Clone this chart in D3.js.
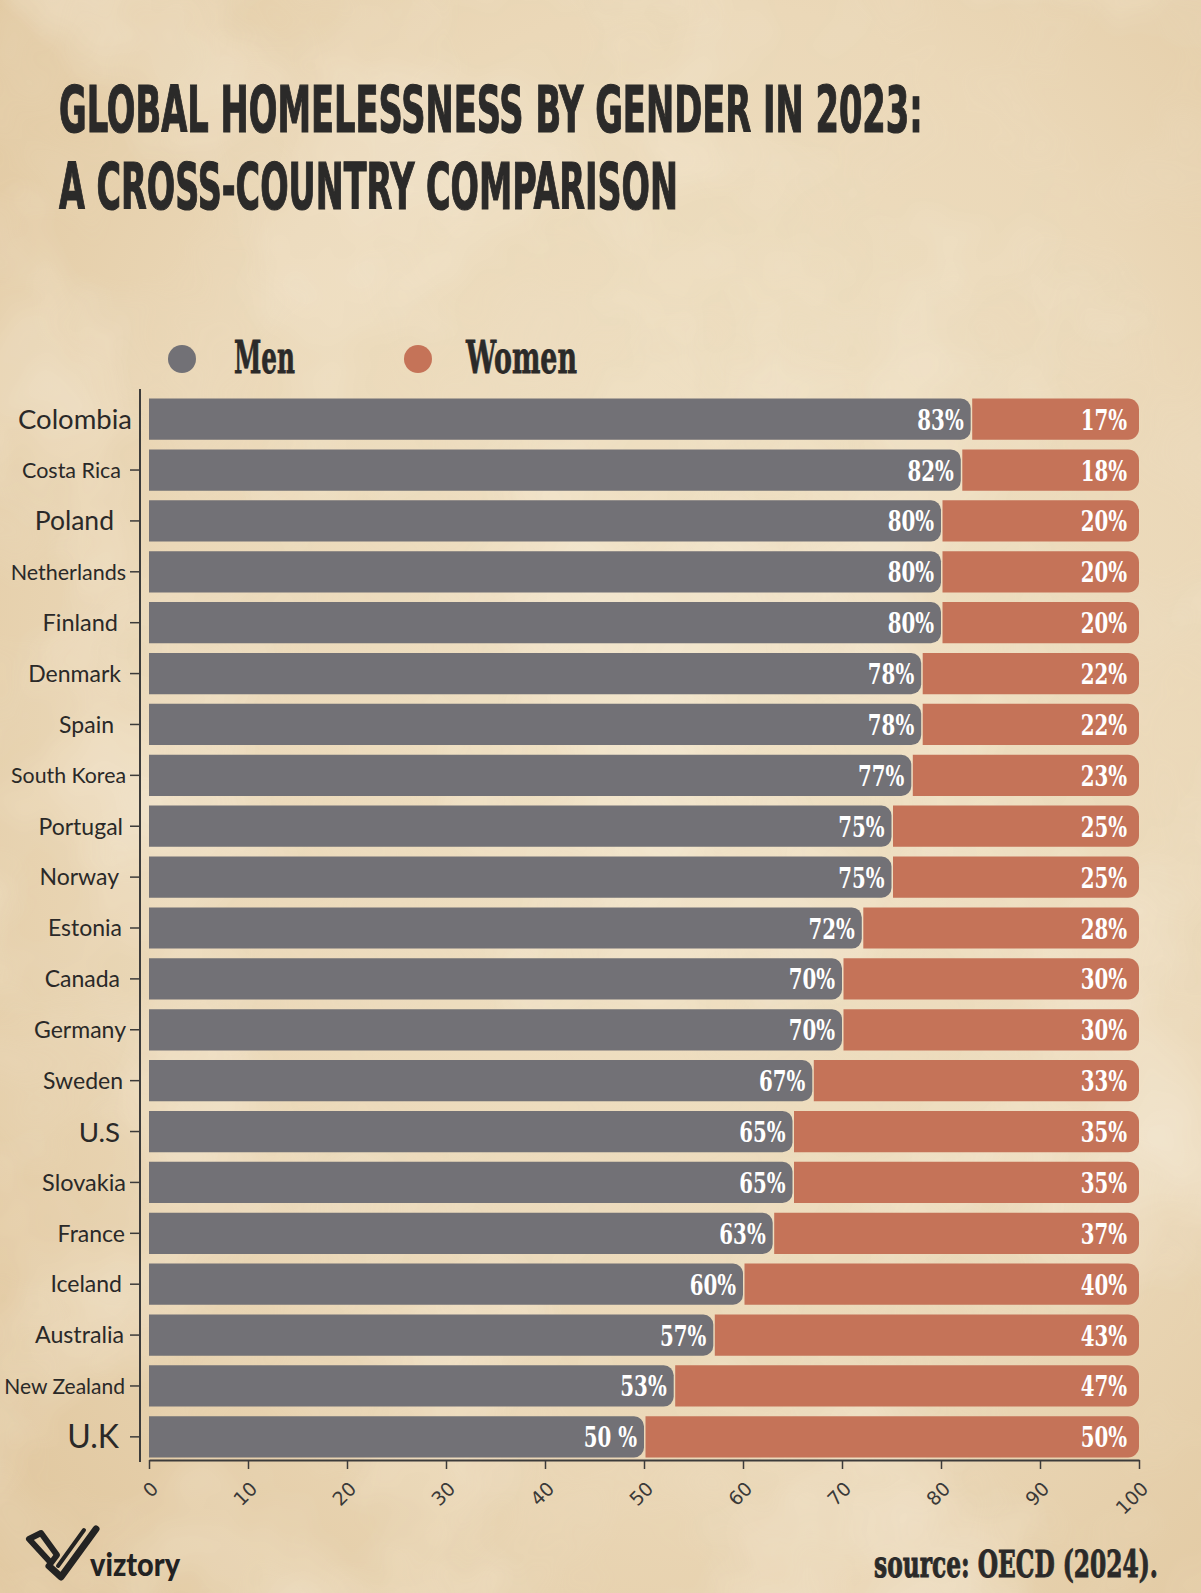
<!DOCTYPE html>
<html>
<head>
<meta charset="utf-8">
<script src="https://cdn.jsdelivr.net/npm/d3@7"></script>
<style>
  html, body { margin: 0; padding: 0; background: #ead8b8; }
  svg { display: block; }
</style>
</head>
<body>
<svg id="chart" width="1201" height="1593"></svg>
<script>
// ---------------- data ----------------
const countries = ["Colombia","Costa Rica","Poland","Netherlands","Finland","Denmark","Spain","South Korea","Portugal","Norway","Estonia","Canada","Germany","Sweden","U.S","Slovakia","France","Iceland","Australia","New Zealand","U.K"];
const men   = [83,82,80,80,80,78,78,77,75,75,72,70,70,67,65,65,63,60,57,53,50];
const women = [17,18,20,20,20,22,22,23,25,25,28,30,30,33,35,35,37,40,43,47,50];
const menLabels   = ["83%","82%","80%","80%","80%","78%","78%","77%","75%","75%","72%","70%","70%","67%","65%","65%","63%","60%","57%","53%","50 %"];
const womenLabels = ["17%","18%","20%","20%","20%","22%","22%","23%","25%","25%","28%","30%","30%","33%","35%","35%","37%","40%","43%","47%","50%"];
const xTicks = [0,10,20,30,40,50,60,70,80,90,100];
const seriesNames = ["Men","Women"];
const titleLines = ["GLOBAL HOMELESSNESS BY GENDER IN 2023:","A CROSS-COUNTRY COMPARISON"];
const sourceText = "source: OECD (2024).";

// ---------------- styles ----------------
const GRAY = "#727176", ORANGE = "#c57358", INK = "#2b2a29";
// country label look (font size, right edge of the text)
const labelStyle = {
  "Colombia":[27.5,132], "Costa Rica":[21.5,121], "Poland":[26.5,114], "Netherlands":[21.5,126],
  "Finland":[23.5,118], "Denmark":[23,121], "Spain":[23,114], "South Korea":[21.3,126],
  "Portugal":[23,123], "Norway":[23,119], "Estonia":[23,122], "Canada":[23,120],
  "Germany":[23,126], "Sweden":[23,123], "U.S":[27.7,120], "Slovakia":[23.5,126],
  "France":[23,125], "Iceland":[23,122], "Australia":[23.2,124], "New Zealand":[21,125],
  "U.K":[32,119]
};

const svg = d3.select("#chart");
const W = 1201, H = 1593;

// ---------------- background ----------------
const defs = svg.append("defs");
const bg = defs.append("radialGradient").attr("id","bgGrad").attr("cx","58%").attr("cy","45%").attr("r","75%");
bg.append("stop").attr("offset","0%").attr("stop-color","#f0e2c6");
bg.append("stop").attr("offset","60%").attr("stop-color","#ebd8b8");
bg.append("stop").attr("offset","100%").attr("stop-color","#e1c8a0");

const f1 = defs.append("filter").attr("id","paperLight").attr("x",0).attr("y",0).attr("width","100%").attr("height","100%");
f1.append("feTurbulence").attr("type","fractalNoise").attr("baseFrequency","0.004").attr("numOctaves",4).attr("seed",7);
f1.append("feColorMatrix").attr("type","matrix")
  .attr("values","0 0 0 0 0.96  0 0 0 0 0.91  0 0 0 0 0.81  0 0 0 2.0 -0.9");
const f2 = defs.append("filter").attr("id","paperDark").attr("x",0).attr("y",0).attr("width","100%").attr("height","100%");
f2.append("feTurbulence").attr("type","fractalNoise").attr("baseFrequency","0.007").attr("numOctaves",3).attr("seed",21);
f2.append("feColorMatrix").attr("type","matrix")
  .attr("values","0 0 0 0 0.84  0 0 0 0 0.72  0 0 0 0 0.54  0 0 0 -1.8 1.05");

svg.append("rect").attr("width",W).attr("height",H).attr("fill","url(#bgGrad)");
svg.append("rect").attr("width",W).attr("height",H).attr("filter","url(#paperDark)").attr("opacity",0.4);
svg.append("rect").attr("width",W).attr("height",H).attr("filter","url(#paperLight)").attr("opacity",0.45);

// helper: squeeze a text horizontally to a target width
function fitWidth(sel, x0, y0, target, anchorEnd) {
  const node = sel.node();
  const w = node.getComputedTextLength();
  const k = target / w;
  sel.attr("x", 0).attr("y", 0)
     .attr("transform", `translate(${x0},${y0}) scale(${k},1)`);
}

// ---------------- title ----------------
const titleFont = "'Liberation Sans Narrow','DejaVu Sans Condensed','Roboto',sans-serif";
const titleLen = [864, 619];
titleLines.forEach((t,i) => {
  const tx = svg.append("text")
    .style("font-family", titleFont).style("font-weight",700).style("font-size","64px")
    .attr("fill", INK).attr("stroke", INK).attr("stroke-width",1.2)
    .text(t);
  fitWidth(tx, 59, i === 0 ? 132 : 209, titleLen[i]);
});

// ---------------- scales ----------------
const x = d3.scaleLinear().domain([0,100]).range([149,1139]);
const y = d3.scaleBand().domain(countries).range([396,1460]).paddingInner(0.19).paddingOuter(0.05);
const bw = y.bandwidth();

const rows = countries.map((c,i) => ({country:c, men:men[i], women:women[i], ml:menLabels[i], wl:womenLabels[i]}));

function roundRight(x0, x1, yy, h, r) {
  r = Math.min(r, (x1-x0)/2, h/2);
  return `M${x0},${yy}H${x1-r}A${r},${r} 0 0 1 ${x1},${yy+r}V${yy+h-r}A${r},${r} 0 0 1 ${x1-r},${yy+h}H${x0}Z`;
}

// ---------------- legend ----------------
const legendFont = "'DejaVu Serif','Liberation Serif',serif";
const legend = svg.append("g");
const legendPos = [{cx:182, tx:234, len:61}, {cx:418, tx:466, len:111}];
seriesNames.forEach((s,i) => {
  legend.append("circle").attr("cx", legendPos[i].cx).attr("cy", 359).attr("r", 14)
    .attr("fill", i === 0 ? GRAY : ORANGE);
  const lt = legend.append("text")
    .style("font-family", legendFont).style("font-weight",700).style("font-size","44px")
    .attr("fill", INK).attr("stroke", INK).attr("stroke-width",0.8)
    .text(s);
  fitWidth(lt, legendPos[i].tx, 373, legendPos[i].len);
});

// ---------------- bars ----------------
const barsG = svg.append("g");
const rowG = barsG.selectAll("g.row").data(rows).join("g").attr("class","row");

rowG.append("path")
  .attr("d", d => roundRight(x(100) - (x(d.women) - x(0)) + 1.5, x(100), y(d.country), bw, 11))
  .attr("fill", ORANGE);
rowG.append("path")
  .attr("d", d => roundRight(x(0), x(d.men), y(d.country), bw, 10))
  .attr("fill", GRAY);

const valFont = "'DejaVu Serif','Liberation Serif',serif";
rowG.append("text")
  .attr("transform", d => `translate(${x(d.men) - 7},${y(d.country) + bw/2 + 10.5}) scale(0.72,1)`)
  .attr("text-anchor","end")
  .style("font-family", valFont).style("font-weight",700).style("font-size","27.5px")
  .attr("fill","#ffffff")
  .text(d => d.ml);
rowG.append("text")
  .attr("transform", d => `translate(${x(100) - 12},${y(d.country) + bw/2 + 10.5}) scale(0.72,1)`)
  .attr("text-anchor","end")
  .style("font-family", valFont).style("font-weight",700).style("font-size","27.5px")
  .attr("fill","#ffffff")
  .text(d => d.wl);

// ---------------- y axis ----------------
const yAxisG = svg.append("g").attr("transform","translate(140,0)");
yAxisG.append("line").attr("x1",0).attr("x2",0).attr("y1",389).attr("y2",1462)
  .attr("stroke","#3c3b3a").attr("stroke-width",2);
const yAxis = d3.axisLeft(y).tickSize(9).tickSizeOuter(0);
const yAx = yAxisG.append("g").call(yAxis);
yAx.select(".domain").remove();
yAx.selectAll(".tick line").attr("stroke","#3c3b3a").attr("stroke-width",1.5)
  .attr("x1",-1).attr("x2",-10)
  .attr("display", d => d === "Colombia" ? "none" : null);
yAx.selectAll(".tick text")
  .attr("x", d => labelStyle[d][1] - 140)
  .attr("dy","0.36em")
  .style("font-family","'Lato','Noto Sans',sans-serif")
  .style("font-size", d => labelStyle[d][0] + "px")
  .attr("fill","#2a2928");

// ---------------- x axis ----------------
const xAxis = d3.axisBottom(x).tickValues(xTicks).tickSize(9).tickSizeOuter(0);
const xAx = svg.append("g").attr("transform","translate(0,1460)").call(xAxis);
xAx.select(".domain").attr("stroke","#3c3b3a").attr("stroke-width",2);
xAx.selectAll(".tick line").attr("stroke","#3c3b3a").attr("stroke-width",1.5);
xAx.selectAll(".tick text")
  .attr("x",0).attr("y",0).attr("dy",0)
  .attr("transform","translate(10,30) rotate(-45)")
  .style("text-anchor","end")
  .style("font-family","'DejaVu Sans',sans-serif")
  .style("font-size","19px")
  .attr("fill","#3a3938");

// ---------------- source ----------------
const src = svg.append("text")
  .style("font-family", valFont).style("font-weight",700).style("font-size","38px")
  .attr("fill", INK).attr("stroke", INK).attr("stroke-width",1)
  .text(sourceText);
fitWidth(src, 874, 1577, 284);

// ---------------- logo ----------------
const logo = svg.append("g").attr("fill","none").attr("stroke","#232323").attr("stroke-linejoin","round").attr("stroke-linecap","round");
logo.append("path")
  .attr("d","M29,1539 L41,1533 L57,1555 L51,1563 Z")
  .attr("stroke-width",6);
logo.append("path")
  .attr("d","M49,1566 L61,1577 L96,1529")
  .attr("stroke-width",7);
logo.append("path")
  .attr("d","M58,1566 L84,1530")
  .attr("stroke-width",4);
logo.append("text").attr("x",90).attr("y",1576)
  .attr("textLength",90).attr("lengthAdjust","spacingAndGlyphs")
  .attr("stroke","none")
  .style("font-family","'Lato','Noto Sans',sans-serif").style("font-weight",900).style("font-size","33px")
  .attr("fill","#222")
  .text("viztory");
</script>
</body>
</html>
